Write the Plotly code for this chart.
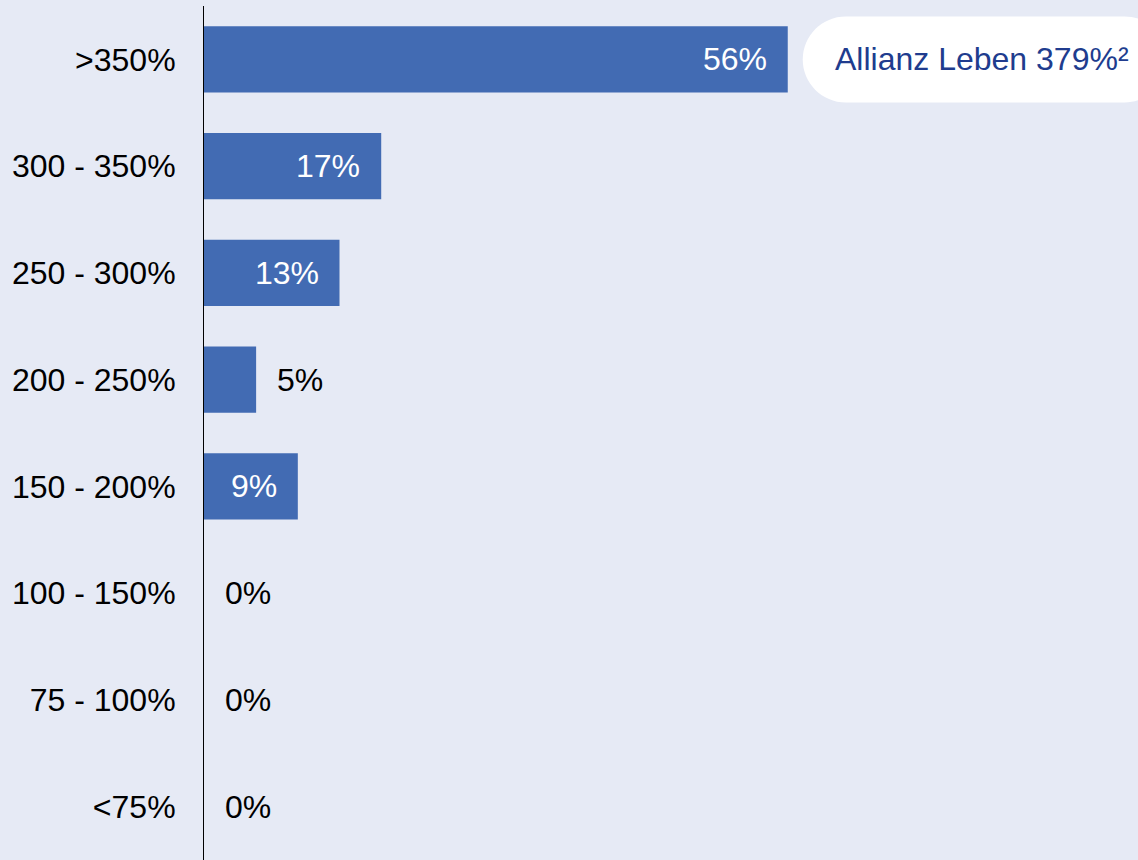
import plotly.graph_objects as go

# Verteilung der Solvenzquoten
kategorien = [">350%", "300 - 350%", "250 - 300%", "200 - 250%", "150 - 200%",
              "100 - 150%", "75 - 100%", "<75%"]
anteile = [56, 17, 13, 5, 9, 0, 0, 0]
hinweis = "Allianz Leben 379%²"

blau = "#426BB3"
hintergrund = "#E6EAF5"
schrift = "Liberation Sans, Arial, sans-serif"

fig = go.Figure(go.Bar(
    x=anteile,
    y=kategorien,
    orientation="h",
    marker=dict(color=blau, line=dict(width=0)),
    hoverinfo="skip",
))

# Beschriftungen: breite Balken innen (weiß), schmale außen (schwarz)
for kat, wert in zip(kategorien, anteile):
    innen = wert >= 8
    fig.add_annotation(
        x=wert, y=kat, text=f"{wert}%", showarrow=False,
        xanchor="right" if innen else "left",
        xshift=-19 if innen else 19,
        font=dict(family=schrift, size=32, color="white" if innen else "black"),
    )

# weiße Pille neben dem obersten Balken
r = 43
k = 0.5523 * r
l, rc = 15, 337
pfad = (f"M {l + r},{r} C {l + r - k},{r} {l},{k} {l},0 "
        f"C {l},{-k} {l + r - k},{-r} {l + r},{-r} "
        f"L {rc},{-r} C {rc + k},{-r} {rc + r},{-k} {rc + r},0 "
        f"C {rc + r},{k} {rc + k},{r} {rc},{r} Z")
fig.add_shape(
    type="path", path=pfad,
    xref="x", yref="y", xsizemode="pixel", ysizemode="pixel",
    xanchor=anteile[0], yanchor=kategorien[0],
    fillcolor="white", line=dict(width=0), layer="above",
)
fig.add_annotation(
    x=anteile[0], y=kategorien[0], text=hinweis, showarrow=False,
    xanchor="left", xshift=45,
    font=dict(family=schrift, size=32, color="#203C8E"),
)

fig.update_layout(
    width=1138, height=860,
    margin=dict(l=204, r=0, t=6, b=0),
    paper_bgcolor=hintergrund, plot_bgcolor=hintergrund,
    bargap=0.38, showlegend=False,
    xaxis=dict(range=[0, 89.6], visible=False, fixedrange=True),
    yaxis=dict(
        autorange="reversed", showline=True, linecolor="black", linewidth=1,
        showgrid=False, zeroline=False, ticks="", ticklabelstandoff=21,
        tickfont=dict(family=schrift, size=32, color="black"),
    ),
)

fig.write_html("out.html", config={"displayModeBar": False},
               post_script="document.body.style.margin='0px';")
